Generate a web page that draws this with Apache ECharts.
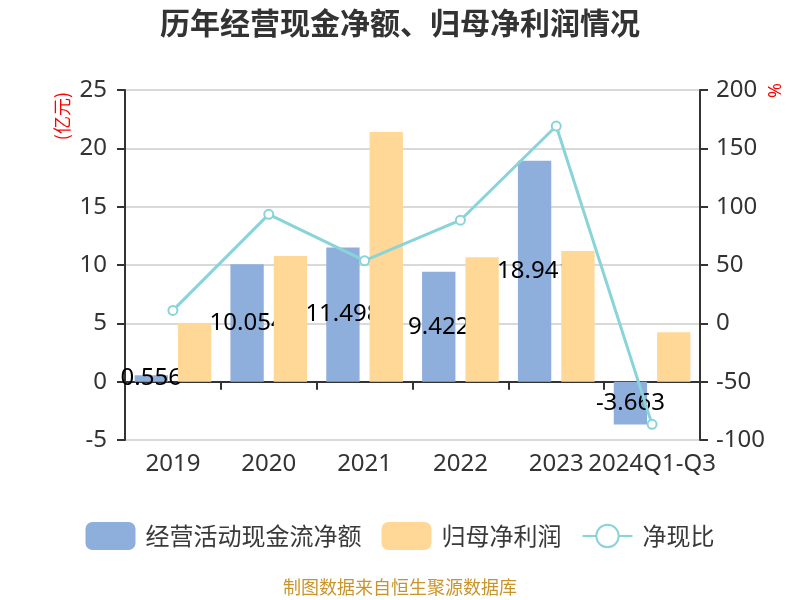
<!DOCTYPE html>
<html>
<head>
<meta charset="utf-8">
<script src="https://cdn.jsdelivr.net/npm/echarts@6/dist/echarts.min.js"></script>
<style>html,body{margin:0;padding:0;background:#fff}#main{width:800px;height:600px}</style>
</head>
<body>
<div id="main"></div>
<script>
const categories = ['2019', '2020', '2021', '2022', '2023', '2024Q1-Q3'];
const cashFlow = [0.556, 10.054, 11.498, 9.422, 18.941, -3.663];
const netProfit = [5.0, 10.77, 21.4, 10.66, 11.2, 4.23];
const cashRatio = [11.1, 93.4, 53.7, 88.4, 169.1, -86.6];
const leftTicks = { min: -5, max: 25, interval: 5 };
const rightTicks = { min: -100, max: 200, interval: 50 };

const FONT = "'Noto Sans', 'Noto Sans CJK SC', sans-serif";
const chart = echarts.init(document.getElementById('main'));
chart.setOption({
  backgroundColor: '#fff',
  textStyle: { fontFamily: FONT },
  title: {
    text: '历年经营现金净额、归母净利润情况',
    left: 'center', top: 3,
    textStyle: { fontSize: 30, fontWeight: 'bold', color: '#333', fontFamily: "'Noto Sans CJK SC', sans-serif" }
  },
  graphic: [
    { type: 'text', left: 53, top: 92, rotation: Math.PI / 2,
      style: { text: '(亿元)', fill: '#ff0000', fontSize: 18, fontFamily: "'Noto Sans CJK SC', sans-serif" } },
    { type: 'text', left: 767, top: 83, rotation: Math.PI / 2,
      style: { text: '%', fill: '#ff0000', fontSize: 18, fontFamily: FONT } },
    { type: 'text', left: 'center', top: 578,
      style: { text: '制图数据来自恒生聚源数据库', fill: '#c9952b', fontSize: 18, fontFamily: "'Noto Sans CJK SC', sans-serif" } }
  ],
  legend: {
    bottom: 45, left: 'center',
    itemWidth: 50, itemHeight: 28, itemGap: 20,
    textStyle: { fontSize: 24, color: '#3a3a3a', fontFamily: "'Noto Sans CJK SC', sans-serif", padding: [0, 0, 0, 5] },
    data: [
      { name: '经营活动现金流净额', itemStyle: { borderRadius: 6 } },
      { name: '归母净利润', itemStyle: { borderRadius: 6 } },
      { name: '净现比' }
    ]
  },
  grid: { left: 125, right: 100, top: 90, bottom: 160 },
  xAxis: {
    type: 'category', data: categories,
    axisLine: { onZero: true, lineStyle: { color: '#333', width: 2 } },
    axisTick: { show: true, length: 8, lineStyle: { color: '#333', width: 2 } },
    axisLabel: { fontSize: 24, color: '#333', margin: 12, fontFamily: FONT, interval: 0 }
  },
  yAxis: [
    { type: 'value', min: leftTicks.min, max: leftTicks.max, interval: leftTicks.interval,
      axisLine: { show: true, lineStyle: { color: '#333', width: 2 } },
      axisTick: { show: true, length: 8, lineStyle: { color: '#333', width: 2 } },
      axisLabel: { fontSize: 24, color: '#333', margin: 18, fontFamily: FONT },
      splitLine: { show: true, lineStyle: { color: '#ccc', width: 1.5 } } },
    { type: 'value', min: rightTicks.min, max: rightTicks.max, interval: rightTicks.interval,
      axisLine: { show: true, lineStyle: { color: '#333', width: 2 } },
      axisTick: { show: true, length: 8, lineStyle: { color: '#333', width: 2 } },
      axisLabel: { fontSize: 24, color: '#333', margin: 16, fontFamily: FONT },
      splitLine: { show: false } }
  ],
  series: [
    { name: '经营活动现金流净额', type: 'bar', data: cashFlow, z: 2,
      barGap: '30%', barCategoryGap: '20%',
      itemStyle: { color: '#8eaedb' },
      label: { show: true, position: 'inside', color: '#000', fontSize: 24, fontFamily: FONT, textBorderWidth: 0 } },
    { name: '归母净利润', type: 'bar', data: netProfit, z: 3,
      barGap: '30%', barCategoryGap: '20%',
      itemStyle: { color: '#ffd897' } },
    { name: '净现比', type: 'line', yAxisIndex: 1, data: cashRatio, z: 4,
      symbol: 'emptyCircle', symbolSize: 9,
      lineStyle: { color: '#88d4d8', width: 3 },
      itemStyle: { color: '#88d4d8', borderWidth: 2 } }
  ]
});
</script>
</body>
</html>
